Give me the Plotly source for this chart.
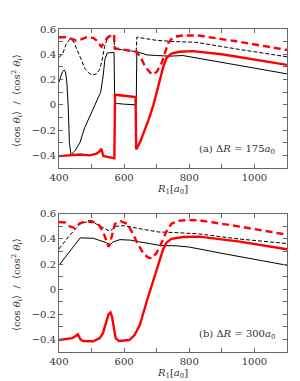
import plotly.graph_objects as go

# ---------------- Panel (a): dR = 175 a0 ----------------
a_cos_R = [400, 405, 410, 416, 420, 424, 428, 432, 437, 450, 464, 479, 499, 515, 528, 535, 541, 548, 560, 569, 571, 580, 600, 620, 637, 639, 650, 670, 700, 740, 780, 850, 950, 1100]
a_cos_V = [0.18, 0.22, 0.26, 0.275, 0.26, 0.18, 0.0, -0.3, -0.395, -0.36, -0.30, -0.18, -0.07, 0.02, 0.1, 0.22, 0.36, 0.41, 0.415, 0.415, 0.015, 0.01, 0.005, 0.0, 0.0, 0.42, 0.41, 0.395, 0.39, 0.385, 0.39, 0.358, 0.313, 0.245]

a_cos2_R = [400, 412, 422, 433, 445, 455, 465, 480, 495, 505, 515, 525, 532, 540, 548, 558, 568, 571, 600, 637, 639, 660, 700, 760, 820, 950, 1100]
a_cos2_V = [0.374, 0.41, 0.48, 0.52, 0.50, 0.44, 0.37, 0.285, 0.245, 0.237, 0.245, 0.28, 0.35, 0.46, 0.52, 0.545, 0.55, 0.44, 0.435, 0.42, 0.535, 0.525, 0.51, 0.50, 0.495, 0.44, 0.38]

a_rcos_R = [400, 430, 464, 495, 515, 524, 530, 536, 545, 560, 570, 572, 600, 635, 637, 650, 660, 675, 690, 700, 710, 720, 730, 745, 770, 810, 900, 1000, 1100]
a_rcos_V = [-0.406, -0.40, -0.393, -0.40, -0.387, -0.37, -0.348, -0.405, -0.41, -0.415, -0.424, 0.08, 0.072, 0.061, -0.353, -0.29, -0.22, -0.12, 0.0, 0.1, 0.2, 0.3, 0.37, 0.405, 0.42, 0.425, 0.40, 0.36, 0.316]

a_rcos2_R = [400, 420, 435, 453, 470, 485, 505, 515, 530, 540, 550, 560, 569, 571, 600, 637, 650, 665, 685, 700, 715, 725, 735, 745, 756, 780, 830, 950, 1100]
a_rcos2_V = [0.535, 0.535, 0.525, 0.508, 0.52, 0.535, 0.53, 0.51, 0.46, 0.5, 0.535, 0.55, 0.555, 0.447, 0.435, 0.42, 0.38, 0.3, 0.24, 0.26, 0.33, 0.41, 0.487, 0.52, 0.54, 0.548, 0.548, 0.5, 0.434]

# ---------------- Panel (b): dR = 300 a0 ----------------
b_cos_R = [400, 420, 440, 465, 505, 530, 545, 556, 565, 587, 620, 648, 680, 710, 760, 800, 900, 1000, 1100]
b_cos_V = [0.19, 0.26, 0.33, 0.408, 0.405, 0.385, 0.37, 0.35, 0.375, 0.394, 0.39, 0.376, 0.36, 0.348, 0.345, 0.335, 0.285, 0.237, 0.19]

b_cos2_R = [400, 430, 465, 485, 510, 540, 556, 575, 600, 650, 705, 760, 828, 950, 1100]
b_cos2_V = [0.32, 0.42, 0.52, 0.535, 0.525, 0.48, 0.46, 0.5, 0.505, 0.48, 0.455, 0.45, 0.44, 0.40, 0.363]

b_rcos_R = [400, 420, 440, 450, 458, 466, 474, 505, 525, 535, 546, 552, 558, 563, 568, 574, 584, 616, 632, 648, 669, 689, 700, 710, 720, 730, 745, 780, 830, 950, 1100]
b_rcos_V = [-0.405, -0.40, -0.39, -0.375, -0.36, -0.40, -0.413, -0.415, -0.39, -0.35, -0.26, -0.2, -0.185, -0.22, -0.3, -0.39, -0.413, -0.405, -0.365, -0.286, -0.1, 0.058, 0.15, 0.24, 0.32, 0.37, 0.40, 0.415, 0.418, 0.38, 0.317]

b_rcos2_R = [400, 420, 433, 448, 462, 480, 500, 520, 536, 546, 552, 558, 572, 590, 610, 625, 640, 660, 675, 685, 700, 715, 730, 745, 770, 800, 830, 950, 1100]
b_rcos2_V = [0.535, 0.53, 0.5, 0.485, 0.52, 0.54, 0.54, 0.52, 0.455, 0.38, 0.336, 0.38, 0.52, 0.54, 0.52, 0.45, 0.37, 0.28, 0.25, 0.245, 0.29, 0.37, 0.46, 0.52, 0.545, 0.55, 0.548, 0.50, 0.434]

panel_labels = ["(a) Δ<i>R</i> = 175<i>a</i><sub>0</sub>", "(b) Δ<i>R</i> = 300<i>a</i><sub>0</sub>"]
ytitle = "⟨cos <i>θ</i><sub>i</sub>⟩  /  ⟨cos<sup>2</sup> <i>θ</i><sub>i</sub>⟩"
xtitle = "<i>R</i><sub>1</sub>[<i>a</i><sub>0</sub>]"

FONT = "DejaVu Serif"
FS = 10
fig = go.Figure()

def add(R, V, color, width, dash, xa, ya):
    fig.add_trace(go.Scatter(x=R, y=V, mode="lines", xaxis=xa, yaxis=ya,
                             line=dict(color=color, width=width, dash=dash),
                             showlegend=False, hoverinfo="skip"))

add(a_cos2_R, a_cos2_V, "black", 1, "4px,2px", "x", "y")
add(a_cos_R, a_cos_V, "black", 1, "solid", "x", "y")
add(a_rcos2_R, a_rcos2_V, "#ff0000", 2.4, "7px,4px", "x", "y")
add(a_rcos_R, a_rcos_V, "#ff0000", 2.4, "solid", "x", "y")

add(b_cos2_R, b_cos2_V, "black", 1, "4px,2px", "x2", "y2")
add(b_cos_R, b_cos_V, "black", 1, "solid", "x2", "y2")
add(b_rcos2_R, b_rcos2_V, "#ff0000", 2.4, "7px,4px", "x2", "y2")
add(b_rcos_R, b_rcos_V, "#ff0000", 2.4, "solid", "x2", "y2")

axcol = "#666666"
txtcol = "#333333"
def xax(anchor, title):
    return dict(anchor=anchor, range=[400, 1100], tickmode="linear", tick0=400, dtick=200,
                ticks="inside", ticklen=4, tickcolor=axcol, showline=True, linecolor=axcol,
                linewidth=1, mirror="allticks", showgrid=False, zeroline=False,
                minor=dict(tick0=400, dtick=100, ticks="inside", ticklen=4, tickcolor=axcol, showgrid=False),
                tickfont=dict(family=FONT, size=FS, color=txtcol),
                title=dict(text=title, font=dict(family=FONT, size=FS, color=txtcol), standoff=2))

def yax(anchor, domain):
    return dict(anchor=anchor, domain=domain, range=[-0.5, 0.6], tickmode="linear", tick0=0, dtick=0.2,
                ticks="inside", ticklen=4, tickcolor=axcol, showline=True, linecolor=axcol,
                linewidth=1, mirror="allticks", showgrid=False, zeroline=False,
                minor=dict(tick0=0, dtick=0.1, ticks="inside", ticklen=4, tickcolor=axcol, showgrid=False),
                tickfont=dict(family=FONT, size=FS, color=txtcol))

fig.update_layout(
    width=300, height=381,
    margin=dict(l=51, r=21, t=21, b=37),
    paper_bgcolor="white", plot_bgcolor="white",
    font=dict(family=FONT, size=FS, color=txtcol),
    xaxis=xax("y", xtitle),
    yaxis=yax("x", [0.5697, 1.0]),
    xaxis2=xax("y2", xtitle),
    yaxis2=yax("x2", [0.0, 0.428]),
)

for lab, yp in zip(panel_labels, [(344 - 141) / 323, (344 - 326) / 323]):
    fig.add_annotation(text=lab, xref="paper", yref="paper", x=(269 - 51) / 228, y=yp,
                       xanchor="right", yanchor="middle", showarrow=False,
                       font=dict(family=FONT, size=FS, color=txtcol))

for yc in [(344 - 93) / 323, (344 - 277) / 323]:
    fig.add_annotation(text=ytitle, xref="paper", yref="paper", x=(9 - 51) / 228, y=yc,
                       xanchor="center", yanchor="middle", textangle=-90, showarrow=False,
                       font=dict(family=FONT, size=FS, color=txtcol))

fig.write_html("out.html")
